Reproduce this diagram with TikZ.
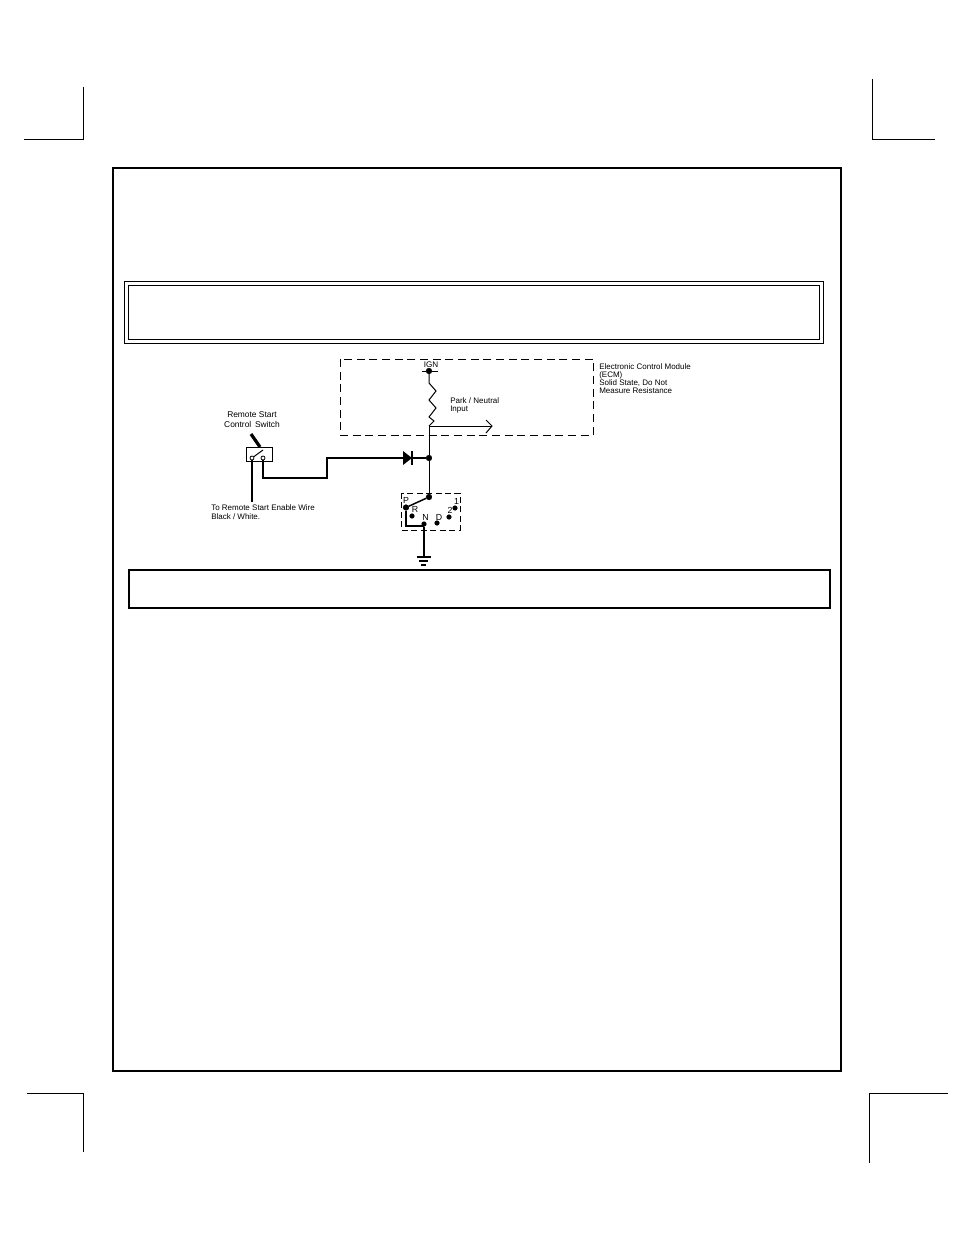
\documentclass[tikz,border=0pt]{standalone}
\usepackage{fontspec}
\setmainfont{Liberation Sans}
\usetikzlibrary{positioning}
\tikzset{
	dot/.style={circle,fill,draw,inner sep=0,minimum size=4.2pt},
	tinydot/.style={circle,fill,draw,inner sep=0,minimum size=3.4pt},
	hollow/.style={circle,fill=white,draw,line width=.6pt,inner sep=0,minimum size=3pt},
	lbl/.style={font=\fontsize{6}{6.1}\selectfont,align=left,inner sep=0,anchor=west},
	lblc/.style={font=\fontsize{6.3}{7.6}\selectfont,align=center,inner sep=0},
	poslbl/.style={font=\fontsize{6.6}{7}\selectfont,inner sep=0},
	wire/.style={line width=.75pt},
	heavy/.style={line width=1.7pt},
	cropline/.style={line width=.75pt}
}
\begin{document}
\begin{tikzpicture}[x=.75pt,y=-.75pt,line join=miter]
\useasboundingbox (0,0) rectangle (954,1235);
% crop marks
\draw[cropline] (24,139) -- (83,139) -- (83,87);
\draw[cropline] (872,79) -- (872,139) -- (935,139);
\draw[cropline] (27,1093) -- (83,1093) -- (83,1152);
\draw[cropline] (948,1093) -- (869,1093) -- (869,1163);
% page frame and text boxes
\draw[line width=1.4pt] (113,168) rectangle (841,1071);
\draw[line width=.6pt] (124,281) rectangle (823,343);
\draw[line width=.75pt] (128,285) rectangle (819,339);
\draw[line width=1.4pt] (129,570) rectangle (830,608);
% ecm
\draw[line width=.7pt,dash pattern=on 6pt off 3.5pt] (340,359) rectangle (593,435);
\node[lbl] (ecmtext) at (599,378.5) {Electronic Control Module\\(ECM)\\Solid State, Do Not\\Measure Resistance};
\node[dot] (ign) at (429,371) {};
\node[poslbl,font=\fontsize{6.1}{7}\selectfont] (igntext) at (431,365) {IGN};
\coordinate (ignl) at (422,371);
\coordinate (ignr) at (438,371);
\draw[wire] (ignl) -- (ign) -- (ignr);
\coordinate (tap) at (429,426);
\coordinate (tapend) at (492,426);
\draw[wire] (ign) -- (429,383) -- (436,391) -- (429,400) -- (436,408) -- (429,417) -- (434,421) -- (tap);
\draw[line width=.55pt] (tap) -- (tapend);
\draw[wire] (486,420) -- (tapend) -- (486,433);
\node[lbl] (parktext) at (450,405) {Park / Neutral\\Input};
% switch
\node[draw,wire,minimum width=19.5pt,minimum height=10.5pt,inner sep=0] (swbox) at (259,454) {};
\node[hollow] (swa) at (252,458) {};
\node[hollow] (swb) at (263,458) {};
\coordinate (bladeend) at (263,450);
\coordinate (levertop) at (251,434);
\coordinate (leverend) at (260,447);
\coordinate (enableend) at (252,502);
\coordinate (bendlow) at (327,478);
\coordinate (bendhigh) at (327,458);
\draw[wire] (swa) -- (bladeend);
\draw[line width=2.4pt] (levertop) -- (leverend);
\draw[heavy] (swa) -- (enableend);
\node[lblc] (swtext) at (252,420) {Remote Start\\Control\, Switch};
\node[lbl,font=\fontsize{6}{6.8}\selectfont] (enabletext) at (211,512.5) {To Remote Start Enable Wire\\Black / White.};
% diode
\node[dot] (jct) at (429,458) {};
\coordinate (diodel) at (403,458);
\coordinate (dioder) at (412,458);
\draw[heavy] (swb) |- (bendlow) -- (bendhigh) -- (diodel);
\fill (403,451) -- (dioder) -- (403,465) -- cycle;
\draw[line width=1.1pt] (412,451) -- (412,465);
\draw[heavy] (dioder) -- (jct);
% selector
\draw[line width=.7pt,dash pattern=on 4.5pt off 2.6pt] (401,493) rectangle (460,530);
\node[dot] (wiper) at (429,497) {};
\node[dot] (pp) at (406,507.5) {};
\node[tinydot] (rr) at (412,516) {};
\node[tinydot] (nn) at (424,524) {};
\node[tinydot] (dd) at (437,523) {};
\node[tinydot] (two) at (449,517) {};
\node[tinydot] (one) at (455,508) {};
\node[poslbl] (plbl) at (406,500) {P};
\node[poslbl] (rlbl) at (415,509.5) {R};
\node[poslbl] (nlbl) at (425.5,517.5) {N};
\node[poslbl] (dlbl) at (439,517.5) {D};
\node[poslbl] (twolbl) at (450,510.5) {2};
\node[poslbl] (onelbl) at (456.5,501) {1};
\draw[wire] (tap) -- (jct) -- (wiper);
\draw[line width=1.1pt] (wiper) -- (pp);
\coordinate (ppdown) at (406,526);
\coordinate (nndown) at (424,526);
\coordinate (gnd) at (424,557);
\draw[line width=1.4pt] (pp) -- (ppdown) -- (nndown);
\draw[line width=1.4pt] (nn) -- (gnd);
% ground
\draw[line width=1.1pt] (417,557) -- (431,557);
\draw[line width=1.1pt] (419,561) -- (428,561);
\draw[line width=1.1pt] (421,565) -- (426,565);
\end{tikzpicture}
\end{document}
